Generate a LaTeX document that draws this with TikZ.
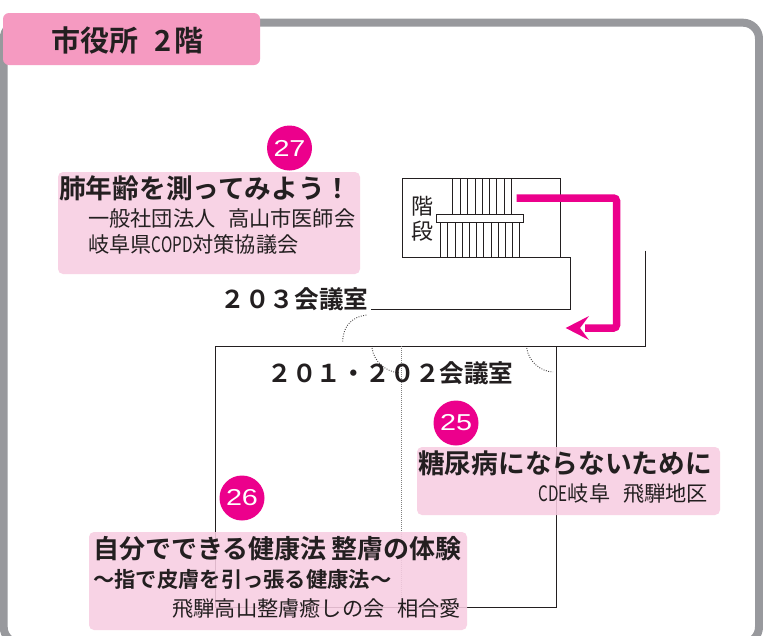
\documentclass[tikz,border=0pt]{standalone}
\usepackage{fontspec}
\setmainfont{Noto Sans CJK JP}
\newfontfamily\boldjp{Noto Sans CJK JP Bold}
\newfontfamily\numfont{Liberation Sans}
\definecolor{framegray}{HTML}{98999D}
\definecolor{tabpink}{HTML}{F59AC1}
\definecolor{boxpink}{HTML}{F8CDE2}
\definecolor{magentaA}{HTML}{EC008C}
\definecolor{inkK}{HTML}{231F20}
\newcommand{\narrowlatin}[1]{\scalebox{0.72}[1]{#1}}
\tikzset{
  wall/.style={draw=inkK,line width=1pt},
  thinwall/.style={draw=inkK,line width=0.8pt},
  door/.style={draw=inkK!85,line width=0.9pt,dash pattern=on 0.9pt off 1.5pt},
  infobox/.style={fill=boxpink,fill opacity=0.88,rounded corners=5pt,draw=none},
  badge/.style={circle,fill=magentaA,minimum size=45pt,inner sep=0pt,text=white,font=\numfont\fontsize{23}{23}\selectfont},
  title/.style={anchor=west,inner sep=0pt,text=inkK,font=\boldjp\fontsize{26.7}{28}\selectfont},
  subtitle/.style={anchor=west,inner sep=0pt,text=inkK,font=\fontsize{21.2}{23}\selectfont},
  roomlabel/.style={anchor=center,inner sep=0pt,text=inkK,font=\boldjp\fontsize{24.6}{26}\selectfont},
}
\begin{document}
\begin{tikzpicture}[x=1pt,y=-1pt]
\useasboundingbox (0,0) rectangle (763,635);
\clip (0,0) rectangle (763,635);
\fill[white] (0,0) rectangle (763,635);
% outer frame
\draw[framegray,line width=8pt,rounded corners=16pt] (3.7,643) -- (3.7,22.7) -- (759,22.7) -- (759,643) -- cycle;
% stairs
\draw[thinwall] (402.7,178.3) rectangle (560.3,257.3);
\foreach \x in {452.3,460,467.3,475,482,489.3,496.7,504,511.7}{\draw[thinwall,line width=0.7pt] (\x,178.3) -- (\x,214.7);}
\foreach \x in {440.3,447.3,455,462.3,469.3,476.7,483.7,491,498.3,505.3,512.3,519.7}{\draw[thinwall,line width=0.7pt] (\x,222.3) -- (\x,257.3);}
\draw[thinwall,fill=white] (436,214.7) rectangle (523.3,222.3);
\node[inner sep=0pt,text=inkK,font=\fontsize{22}{22}\selectfont] (kai) at (422.3,206) {階};
\node[inner sep=0pt,text=inkK,font=\fontsize{22}{22}\selectfont] (dan) at (422.3,231.5) {段};
% walls
\coordinate (w1) at (560.3,257.3);
\coordinate (w2) at (570.7,257.3);
\coordinate (w3) at (570.7,309);
\coordinate (w4) at (370.7,309);
\draw[wall] (w1) -- (w2) -- (w3) -- (w4);
\coordinate (r1) at (645,250.7);
\coordinate (r2) at (645,346);
\coordinate (r3) at (556,346);
\coordinate (r4) at (556,607);
\coordinate (r5) at (215,607);
\coordinate (r6) at (215,346);
\draw[wall] (r1) -- (r2) -- (r6) -- (r5) -- (r4) -- (r3);
% partition and door swings
\draw[draw=gray,line width=0.8pt,dash pattern=on 1pt off 1pt] (401,346) -- (401,607);
\draw[door] (342.7,341.5) .. controls (343,325) and (353,316.5) .. (366.7,315);
\draw[door] (372,348) .. controls (374,362) and (386,372) .. (400,373);
\draw[door] (526.7,348) .. controls (528.5,361) and (540,371.5) .. (553,372);
% arrow
\coordinate (a1) at (516.7,198);
\coordinate (a2) at (616.5,198);
\coordinate (a3) at (616.5,328);
\coordinate (a4) at (585,328);
\draw[magentaA,line width=7.5pt,rounded corners=3pt] (a1) -- (a2) -- (a3) -- (a4);
\fill[magentaA] (565.7,328) -- (589,316) -- (580,328) -- (589,340) -- cycle;
% boxes
\fill[infobox] (58,172) rectangle (360,274);
\fill[infobox] (417,447) rectangle (720,515);
\fill[infobox] (89,532) rectangle (467,630);
% tab
\fill[tabpink,rounded corners=6pt] (3,13) rectangle (260,65);
\node[anchor=west,inner sep=0pt,text=inkK,font=\boldjp\fontsize{29}{30}\selectfont] (tab) at (51,40) {市役所\hspace{0.55em}2\hspace{0.1em}階};
% badges
\node[badge] (b27) at (289.5,148) {\scalebox{1.25}[1]{27}};
\node[badge] (b25) at (456,423) {\scalebox{1.25}[1]{25}};
\node[badge] (b26) at (242,498) {\scalebox{1.25}[1]{26}};
% room labels
\node[roomlabel] (r203) at (294.5,299) {２０３会議室};
\node[roomlabel] (r201) at (390.5,373.5) {２０１・２０２会議室};
% texts
\node[title] (t27) at (59,188) {肺年齢を測ってみよう！};
\node[subtitle] (s27a) at (88,218) {一般社団法人\hspace{0.6em}高山市医師会};
\node[subtitle] (s27b) at (88,244.7) {岐阜県\narrowlatin{COPD}対策協議会};
\node[title] (t25) at (418,463.7) {糖尿病にならないために};
\node[subtitle,anchor=east] (s25) at (708,494) {\narrowlatin{CDE}岐阜\hspace{0.6em}飛騨地区};
\node[title,font=\boldjp\fontsize{26}{28}\selectfont] (t26) at (93,549) {自分でできる健康法\hspace{0.2em}整膚の体験};
\node[anchor=west,inner sep=0pt,text=inkK,font=\boldjp\fontsize{21.3}{23}\selectfont] (s26a) at (93,579.5) {～指で皮膚を引っ張る健康法～};
\node[subtitle,anchor=east] (s26b) at (461,608.5) {飛騨高山整膚癒しの会\hspace{0.6em}相合愛};
\end{tikzpicture}
\end{document}
